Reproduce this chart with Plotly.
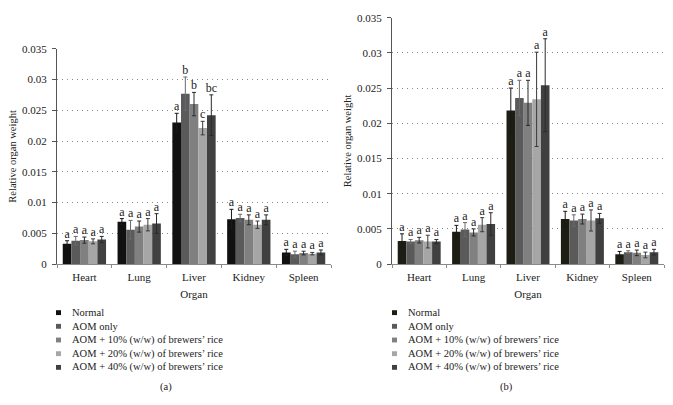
import plotly.graph_objects as go
from plotly.subplots import make_subplots

W, H = 673, 405

organs = ['Heart', 'Lung', 'Liver', 'Kidney', 'Spleen']
groups = [
    'Normal',
    'AOM only',
    'AOM + 10% (w/w) of brewers\u2019 rice',
    'AOM + 20% (w/w) of brewers\u2019 rice',
    'AOM + 40% (w/w) of brewers\u2019 rice',
]

# panel (a)
a_normal = [0.0033, 0.0069, 0.0230, 0.0073, 0.0019]
a_aom = [0.0038, 0.0056, 0.0277, 0.0075, 0.0016]
a_10 = [0.0039, 0.0061, 0.0260, 0.0072, 0.0018]
a_20 = [0.0037, 0.0064, 0.0221, 0.0064, 0.0017]
a_40 = [0.0040, 0.0066, 0.0242, 0.0072, 0.0019]
a_err_normal = [0.0005, 0.0005, 0.0015, 0.0016, 0.0005]
a_err_aom = [0.0007, 0.0015, 0.0027, 0.0006, 0.0005]
a_err_10 = [0.0005, 0.0009, 0.0019, 0.0008, 0.0003]
a_err_20 = [0.0004, 0.0010, 0.0011, 0.0006, 0.0002]
a_err_40 = [0.0005, 0.0016, 0.0033, 0.0008, 0.0004]
a_letters = [
    ['a', 'a', 'a', 'a', 'a'],
    ['a', 'a', 'b', 'a', 'a'],
    ['a', 'a', 'b', 'a', 'a'],
    ['a', 'a', 'c', 'a', 'a'],
    ['a', 'a', 'bc', 'a', 'a'],
]

# panel (b)
b_normal = [0.0033, 0.0046, 0.0218, 0.0064, 0.0014]
b_aom = [0.0032, 0.0049, 0.0236, 0.0062, 0.0017]
b_10 = [0.0034, 0.0045, 0.0229, 0.0064, 0.0016]
b_20 = [0.0032, 0.0056, 0.0234, 0.0062, 0.0013]
b_40 = [0.0032, 0.0057, 0.0254, 0.0065, 0.0017]
b_err_normal = [0.0010, 0.0009, 0.0032, 0.0011, 0.0004]
b_err_aom = [0.0003, 0.0010, 0.0025, 0.0008, 0.0002]
b_err_10 = [0.0004, 0.0005, 0.0032, 0.0007, 0.0004]
b_err_20 = [0.0009, 0.0010, 0.0067, 0.0015, 0.0004]
b_err_40 = [0.0003, 0.0016, 0.0066, 0.0007, 0.0004]
b_letters = [['a'] * 5 for _ in range(5)]

y_ticks = [0, 0.005, 0.01, 0.015, 0.02, 0.025, 0.03, 0.035]

colours_a = ['#111111', '#5a5a5a', '#808080', '#a6a6a6', '#404040']
colours_b = ['#1d1d14', '#5a5a5a', '#808080', '#a6a6a6', '#404040']
err_colours = ['#1a1a1a', '#6a6a6a', '#2a2a2a', '#3a3a3a', '#2a2a2a']

FONT = 'Liberation Serif'
TEXT = '#222222'

panels = [
    dict(vals=[a_normal, a_aom, a_10, a_20, a_40],
         errs=[a_err_normal, a_err_aom, a_err_10, a_err_20, a_err_40],
         letters=a_letters, colours=colours_a),
    dict(vals=[b_normal, b_aom, b_10, b_20, b_40],
         errs=[b_err_normal, b_err_aom, b_err_10, b_err_20, b_err_40],
         letters=b_letters, colours=colours_b),
]

fig = make_subplots(rows=1, cols=2)

for p, panel in enumerate(panels):
    col = p + 1
    for i, name in enumerate(groups):
        vals = panel['vals'][i]
        errs = panel['errs'][i]
        fig.add_trace(go.Bar(
            x=organs, y=vals, name=name,
            marker=dict(color=panel['colours'][i], line=dict(width=0)),
            error_y=dict(type='data', array=errs, visible=True,
                         color=err_colours[i], thickness=1, width=2),
            offsetgroup=str(i), alignmentgroup='p%d' % p,
            showlegend=False,
        ), row=1, col=col)
        # significance letters sit just above each error bar
        fig.add_trace(go.Scatter(
            x=organs, y=[v + e for v, e in zip(vals, errs)],
            mode='text', text=panel['letters'][i],
            textposition='top center', orientation='v',
            textfont=dict(family=FONT, size=12, color=TEXT),
            offsetgroup=str(i), alignmentgroup='p%d' % p,
            showlegend=False, hoverinfo='skip',
        ), row=1, col=col)


def px_x(x):
    return x / W


def px_y(y):
    return 1 - y / H


fig.update_layout(
    width=W, height=H,
    margin=dict(l=0, r=0, t=0, b=0),
    paper_bgcolor='white', plot_bgcolor='white',
    barmode='group', bargap=0.21, bargroupgap=0,
    scattermode='group', scattergap=0.21,
    font=dict(family=FONT, size=10, color=TEXT),
    showlegend=False,
)

domains = [
    dict(x=[px_x(57), px_x(331)], y=[px_y(266), px_y(44)]),
    dict(x=[px_x(392), px_x(664)], y=[px_y(266), px_y(12)]),
]

for p, dom in enumerate(domains):
    col = p + 1
    fig.update_xaxes(
        domain=dom['x'], row=1, col=col,
        showline=True, linecolor='#8a8a8a', linewidth=1,
        ticks='outside', tickson='boundaries', ticklen=3, tickcolor='#8a8a8a',
        ticklabelstandoff=3,
        showgrid=False,
        tickfont=dict(family=FONT, size=11, color=TEXT),
        title=dict(text='Organ', font=dict(family=FONT, size=11, color=TEXT), standoff=7),
    )
    fig.update_yaxes(
        domain=dom['y'], row=1, col=col,
        range=[0, 0.035], tickvals=y_ticks,
        ticktext=['0' if t == 0 else ('%g' % t) for t in y_ticks],
        showline=True, linecolor='#555555', linewidth=1,
        ticks='outside', ticklen=4, tickcolor='#555555',
        ticklabelstandoff=3,
        showgrid=True, gridcolor='#8a8a8a', griddash='1px,4px', gridwidth=1,
        zeroline=False,
        tickfont=dict(family=FONT, size=11, color=TEXT),
        title=dict(text='Relative organ weight', font=dict(family=FONT, size=10.5, color=TEXT), standoff=3),
    )

# hand-drawn legends and panel captions
legend_x = [(56, 70), (392, 406)]
legend_y0, legend_step = 316, 14.1
captions = ['(a)', '(b)']
caption_x = [166, 506]

annotations = []
shapes = []
for p, (sq_x, tx_x) in enumerate(legend_x):
    colours = panels[p]['colours']
    for i, name in enumerate(groups):
        yc = legend_y0 + i * legend_step
        shapes.append(dict(
            type='rect', xref='paper', yref='paper',
            x0=px_x(sq_x), x1=px_x(sq_x + 5),
            y0=px_y(yc + 2.5), y1=px_y(yc - 2.5),
            fillcolor=colours[i], line=dict(width=0),
        ))
        annotations.append(dict(
            text=name, xref='paper', yref='paper',
            x=px_x(tx_x), y=px_y(yc), xanchor='left', yanchor='middle',
            showarrow=False, font=dict(family=FONT, size=10.5, color=TEXT),
        ))
    annotations.append(dict(
        text=captions[p], xref='paper', yref='paper',
        x=px_x(caption_x[p]), y=px_y(393), xanchor='center', yanchor='middle',
        showarrow=False, font=dict(family=FONT, size=10.5, color=TEXT),
    ))

fig.update_layout(annotations=annotations, shapes=shapes)

fig.write_html("out.html", config={'displayModeBar': False},
               post_script="document.body.style.margin='0';")
